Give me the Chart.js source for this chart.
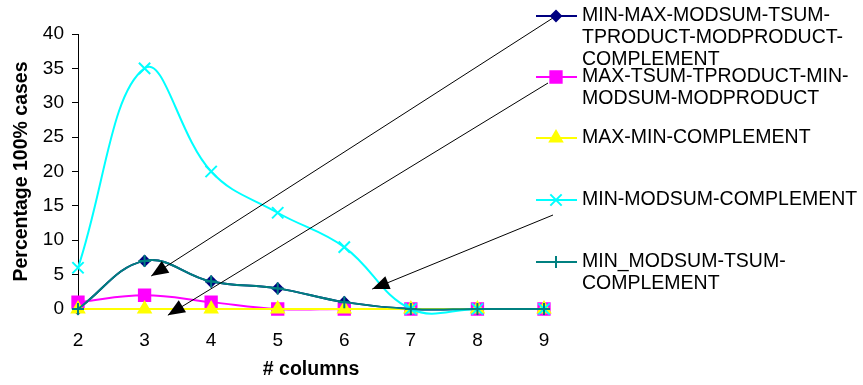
<!DOCTYPE html>
<html>
<head>
<meta charset="utf-8">
<script src="https://cdn.jsdelivr.net/npm/chart.js@4/dist/chart.umd.min.js"></script>
<style>
  html, body { margin: 0; padding: 0; background: #fff; }
  #wrap { width: 863px; height: 385px; }
</style>
</head>
<body>
<div id="wrap"><canvas id="lineCanvas" width="863" height="385"></canvas></div>
<script>
// chart values
const columns = ["2", "3", "4", "5", "6", "7", "8", "9"];
const minMaxModsumAll = [0, 7, 4, 3, 1, 0, 0, 0];
const maxTsumTproduct = [1, 2, 1, 0, 0, 0, 0, 0];
const maxMinComplement = [0, 0, 0, 0, 0, 0, 0, 0];
const minModsumComplement = [6, 35, 20, 14, 9, 0, 0, 0];
const minModsumTsumComplement = [0, 7, 4, 3, 1, 0, 0, 0];
const yTicks = [0, 5, 10, 15, 20, 25, 30, 35, 40];

const legendLines = [
    ["MIN-MAX-MODSUM-TSUM-", "TPRODUCT-MODPRODUCT-", "COMPLEMENT"],
    ["MAX-TSUM-TPRODUCT-MIN-", "MODSUM-MODPRODUCT"],
    ["MAX-MIN-COMPLEMENT"],
    ["MIN-MODSUM-COMPLEMENT"],
    ["MIN_MODSUM-TSUM-", "COMPLEMENT"]
];
// arrow tips in data units (category index, y value)
const arrowTips = [[1.1, 4.8], [1.35, -0.9], [4.42, 2.9]];

const FONT = "'Liberation Sans', Arial, sans-serif";
const legendY = [16, 77, 138, 200, 262];
const arrowStart = [[556, 16], [548, 83], [553, 215]];

const series = [
    {data: minMaxModsumAll, color: "#000080", style: "rectRot", r: 5, order: 5},
    {data: maxTsumTproduct, color: "#FF00FF", style: "rect", r: 8, order: 4},
    {data: maxMinComplement, color: "#FFFF00", style: "triangle", r: 7, order: 3},
    {data: minModsumComplement, color: "#00FFFF", style: "crossRot", r: 8, order: 2},
    {data: minModsumTsumComplement, color: "#008080", style: "cross", r: 6, order: 1}
];

const sideLegend = {
    id: "sideLegend",
    afterDraw(chart) {
        const ctx = chart.ctx;
        const xs = chart.scales.x, ys = chart.scales.y;
        ctx.save();
        // arrows
        ctx.strokeStyle = "#000";
        ctx.fillStyle = "#000";
        ctx.lineWidth = 1;
        arrowTips.forEach((t, i) => {
            const tx = xs.getPixelForValue(t[0]);
            const ty = ys.getPixelForValue(t[1]);
            const [sx, sy] = arrowStart[i];
            ctx.beginPath();
            ctx.moveTo(sx, sy);
            ctx.lineTo(tx, ty);
            ctx.stroke();
            const a = Math.atan2(sy - ty, sx - tx);
            const len = 17, half = 7;
            const bx = tx + Math.cos(a) * len, by = ty + Math.sin(a) * len;
            ctx.beginPath();
            ctx.moveTo(tx, ty);
            ctx.lineTo(bx - Math.sin(a) * half, by + Math.cos(a) * half);
            ctx.lineTo(bx + Math.sin(a) * half, by - Math.cos(a) * half);
            ctx.closePath();
            ctx.fill();
        });
        // legend
        ctx.font = "19.5px " + FONT;
        ctx.textBaseline = "middle";
        ctx.textAlign = "left";
        series.forEach((s, i) => {
            const y = legendY[i];
            ctx.strokeStyle = s.color;
            ctx.fillStyle = s.color;
            ctx.lineWidth = 2;
            ctx.beginPath();
            ctx.moveTo(536, y);
            ctx.lineTo(577, y);
            ctx.stroke();
            Chart.helpers.drawPoint(ctx, {pointStyle: s.style, radius: s.r, rotation: 0, borderWidth: 2}, 556, y);
            ctx.fillStyle = "#000";
            legendLines[i].forEach((line, k) => {
                ctx.fillText(line, 582, y + k * 22);
            });
        });
        ctx.restore();
    }
};

const lineCanvas = document.getElementById("lineCanvas");
const lineChart = new Chart(lineCanvas, {
    type: "line",
    data: {
        labels: columns,
        datasets: series.map((s, i) => ({
            label: legendLines[i].join(""),
            data: s.data,
            borderColor: s.color,
            backgroundColor: s.color,
            pointBackgroundColor: s.color,
            pointBorderColor: s.color,
            pointStyle: s.style,
            pointRadius: s.r,
            pointBorderWidth: 2,
            borderWidth: 2,
            tension: 0.4,
            order: s.order,
            clip: false
        }))
    },
    options: {
        responsive: false,
        animation: false,
        devicePixelRatio: 1,
        layout: {padding: {left: 0, top: 34, right: 319, bottom: 0}},
        elements: {line: {capBezierPoints: false}},
        plugins: {legend: {display: false}, tooltip: {enabled: false}},
        scales: {
            x: {
                offset: false,
                grid: {display: false, drawTicks: false},
                border: {display: true, color: "#000", width: 1},
                ticks: {color: "#000", padding: 20, font: {family: FONT, size: 19}, maxRotation: 0},
                title: {display: true, text: "# columns", color: "#000", padding: {top: 4, bottom: 4},
                    font: {family: FONT, size: 19.5, weight: "bold"}},
                afterFit: s => { s.height = 76; }
            },
            y: {
                min: 0, max: 40,
                afterBuildTicks: s => { s.ticks = yTicks.map(v => ({value: v})); },
                grid: {drawOnChartArea: false, drawTicks: true, tickLength: 6, color: "#000"},
                border: {display: true, color: "#000", width: 1},
                ticks: {color: "#000", padding: 8, font: {family: FONT, size: 19}},
                title: {display: true, text: "Percentage 100% cases", color: "#000", padding: {top: 10, bottom: 0},
                    font: {family: FONT, size: 19.5, weight: "bold"}},
                afterFit: s => { s.width = 78; }
            }
        }
    },
    plugins: [sideLegend]
});
</script>
</body>
</html>
